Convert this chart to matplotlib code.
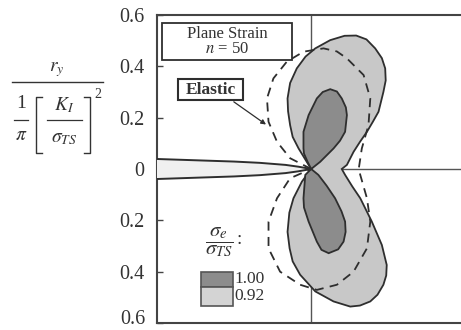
import numpy as np
import matplotlib
matplotlib.use('Agg')
import matplotlib.pyplot as plt
from matplotlib.patches import Rectangle
from matplotlib.lines import Line2D

plt.rcParams['font.family'] = 'serif'
plt.rcParams['font.serif'] = ['Liberation Serif', 'DejaVu Serif']
plt.rcParams['mathtext.fontset'] = 'stix'

###########################################################
# data (units of (1/pi)(K_I/sigma_TS)^2)

# sigma_e/sigma_TS = 0.92 contour (light)
outer_x = [0.0, -0.010, -0.049, -0.072, -0.082, -0.090, -0.092, -0.082, -0.056, -0.022,
           0.016, 0.074, 0.130, 0.175, 0.215, 0.249, 0.275, 0.288, 0.290, 0.281,
           0.262, 0.240, 0.217, 0.190, 0.165, 0.139, 0.119,
           0.132, 0.160, 0.191, 0.236, 0.275, 0.294, 0.292, 0.281, 0.258, 0.230,
           0.190, 0.152, 0.087, 0.016, -0.043, -0.072, -0.084, -0.092, -0.085,
           -0.069, -0.036, 0.0]
outer_y = [0.0, 0.016, 0.080, 0.125, 0.171, 0.225, 0.275, 0.335, 0.392, 0.438,
           0.470, 0.502, 0.519, 0.520, 0.505, 0.470, 0.432, 0.392, 0.345, 0.300,
           0.223, 0.184, 0.145, 0.106, 0.067, 0.016, 0.0,
           -0.023, -0.068, -0.114, -0.205, -0.296, -0.374, -0.415, -0.451, -0.490, -0.516,
           -0.532, -0.536, -0.516, -0.477, -0.412, -0.360, -0.309, -0.245, -0.170,
           -0.114, -0.049, 0.0]

# sigma_e/sigma_TS = 1.00 contour (dark), upper and lower lobes
inner_up_x = [0.0, -0.014, -0.028, -0.030, -0.030, -0.010, 0.022, 0.045, 0.074, 0.100,
              0.119, 0.135, 0.139, 0.132, 0.112, 0.087, 0.035, 0.0]
inner_up_y = [0.0, 0.028, 0.060, 0.080, 0.145, 0.210, 0.275, 0.300, 0.311, 0.302,
              0.275, 0.240, 0.210, 0.145, 0.110, 0.080, 0.028, 0.0]
inner_lo_x = [0.0, 0.028, 0.060, 0.093, 0.118, 0.132, 0.134, 0.126, 0.105, 0.068,
              0.040, 0.022, -0.010, -0.028, -0.030, -0.023, 0.0]
inner_lo_y = [0.0, -0.023, -0.065, -0.114, -0.165, -0.205, -0.245, -0.283, -0.313, -0.328,
              -0.315, -0.283, -0.205, -0.150, -0.114, -0.023, 0.0]

# elastic (von Mises) zone, dashed
elastic_x = [0.0, -0.082, -0.133, -0.166, -0.172, -0.147, -0.095, -0.030, 0.048, 0.100,
             0.139, 0.204, 0.230, 0.223, 0.197, 0.185,
             0.191, 0.217, 0.230, 0.217, 0.165, 0.100, 0.022, -0.043, -0.121, -0.166,
             -0.166, -0.133, -0.082, 0.0]
elastic_y = [0.0, 0.042, 0.106, 0.184, 0.275, 0.353, 0.418, 0.457, 0.470, 0.458,
             0.431, 0.366, 0.275, 0.171, 0.080, 0.0,
             -0.023, -0.114, -0.205, -0.309, -0.400, -0.451, -0.471, -0.451, -0.400, -0.309,
             -0.205, -0.114, -0.036, 0.0]

# crack faces
crack_x = [-0.6, -0.45, -0.3, -0.2, -0.1, -0.05, 0.0]
crack_h = [0.039, 0.034, 0.029, 0.024, 0.016, 0.009, 0.0]

yticks = [-0.6, -0.4, -0.2, 0.0, 0.2, 0.4, 0.6]
ytick_lbls = ['0.6', '0.4', '0.2', '0', '0.2', '0.4', '0.6']
levels = ['1.00', '0.92']

light = '#c8c8c8'
dark = '#8c8c8c'
edge = '#2e2e2e'
txt = '#333333'

W, H = 461, 330
fig = plt.figure(figsize=(W/100, H/100), dpi=100)
ax = fig.add_axes([157/W, 7/H, 304/W, 308/H])
ax.set_xlim(-0.6, 0.583)
ax.set_ylim(-0.6, 0.6)

ax.axvline(0, color='#555555', lw=1.0, zorder=1)
ax.plot([0.119, 0.583], [0, 0], color='#555555', lw=1.0, zorder=1)

ax.fill(outer_x, outer_y, facecolor=light, edgecolor=edge, lw=1.3, zorder=2)
ax.fill(inner_up_x, inner_up_y, facecolor=dark, edgecolor=edge, lw=1.3, zorder=3)
ax.fill(inner_lo_x, inner_lo_y, facecolor=dark, edgecolor=edge, lw=1.3, zorder=3)
ax.plot(elastic_x, elastic_y, color=edge, lw=1.3, dashes=(5, 3.5), zorder=4)

cx = np.array(crack_x)
ch = np.array(crack_h)
ax.fill_between(cx, -ch, ch, facecolor='#f0f0f0', edgecolor='none', zorder=5)
ax.plot(cx, ch, color=edge, lw=1.4, zorder=6)
ax.plot(cx, -ch, color=edge, lw=1.4, zorder=6)

ax.set_yticks(yticks)
ax.set_yticklabels([''] + ytick_lbls[1:])
ax.set_xticks([])
ax.tick_params(axis='y', direction='in', length=4, width=1, labelsize=14.5, pad=9,
               color='#444444', labelcolor=txt)
# bottom label sits a little above the corner
fig.text(145/W, 1 - 320/H, ytick_lbls[0], ha='right', va='center', fontsize=14.5, color=txt)
for s in ['left', 'top', 'bottom']:
    ax.spines[s].set_color('#444444')
    ax.spines[s].set_linewidth(1.5)
ax.spines['right'].set_visible(False)

# boxes
ax.add_patch(Rectangle((0.016, 0.854), 0.428, 0.12, transform=ax.transAxes,
                       facecolor='white', edgecolor=edge, lw=1.3, zorder=7))
ax.text(0.23, 0.938, 'Plane Strain', transform=ax.transAxes, ha='center', va='center',
        fontsize=12, color=txt, zorder=8)
ax.text(0.23, 0.890, '$n$ = 50', transform=ax.transAxes, ha='center', va='center',
        fontsize=12, color=txt, zorder=8)

ax.add_patch(Rectangle((0.069, 0.724), 0.214, 0.068, transform=ax.transAxes,
                       facecolor='white', edgecolor=edge, lw=1.5, zorder=7))
ax.text(0.176, 0.757, 'Elastic', transform=ax.transAxes, ha='center', va='center',
        fontsize=12.5, fontweight='bold', color=txt, zorder=8)
ax.annotate('', xy=(-0.167, 0.167), xytext=(-0.31, 0.268),
            arrowprops=dict(arrowstyle='-|>', lw=0.9, color=edge, mutation_scale=7),
            zorder=8)

# legend
ax.text(0.204, 0.262, r'$\dfrac{\sigma_e}{\sigma_{TS}}$', transform=ax.transAxes,
        ha='center', va='center', fontsize=15, color=txt)
ax.text(0.270, 0.27, ':', transform=ax.transAxes, ha='center', va='center',
        fontsize=14, color=txt)
ax.add_patch(Rectangle((0.144, 0.116), 0.105, 0.051, transform=ax.transAxes,
                       facecolor=dark, edgecolor='#555555', lw=1.2, zorder=7))
ax.add_patch(Rectangle((0.144, 0.055), 0.105, 0.061, transform=ax.transAxes,
                       facecolor='#d4d4d4', edgecolor='#555555', lw=1.2, zorder=7))
ax.text(0.256, 0.143, levels[0], transform=ax.transAxes, ha='left', va='center',
        fontsize=12.5, color=txt)
ax.text(0.256, 0.088, levels[1], transform=ax.transAxes, ha='left', va='center',
        fontsize=12.5, color=txt)

# y label, built up piece by piece (pixel positions from the top-left corner)
def fx(px):
    return px / W

def fy(py):
    return 1 - py / H

def hline(x0, x1, py, lw=1.0):
    fig.add_artist(Line2D([fx(x0), fx(x1)], [fy(py), fy(py)], color=txt, lw=lw))

fig.text(fx(57), fy(70), '$r_y$', ha='center', va='center', fontsize=14, color=txt)
hline(12, 103, 82)
fig.text(fx(21), fy(104), '1', ha='center', va='center', fontsize=14, color=txt)
hline(14, 28, 120, lw=0.9)
fig.text(fx(21), fy(136), r'$\pi$', ha='center', va='center', fontsize=14, color=txt)
fig.text(fx(64), fy(105), '$K_I$', ha='center', va='center', fontsize=14, color=txt)
hline(47, 82, 120, lw=0.9)
fig.text(fx(64), fy(139), r'$\sigma_{TS}$', ha='center', va='center', fontsize=14, color=txt)
# brackets
for xv, xs in [(36, 42), (90, 84)]:
    fig.add_artist(Line2D([fx(xs), fx(xv), fx(xv), fx(xs)],
                          [fy(97), fy(97), fy(153), fy(153)], color=txt, lw=1.0))
fig.text(fx(98), fy(95), '2', ha='center', va='center', fontsize=10, color=txt)

fig.savefig('out.png', dpi=100)
